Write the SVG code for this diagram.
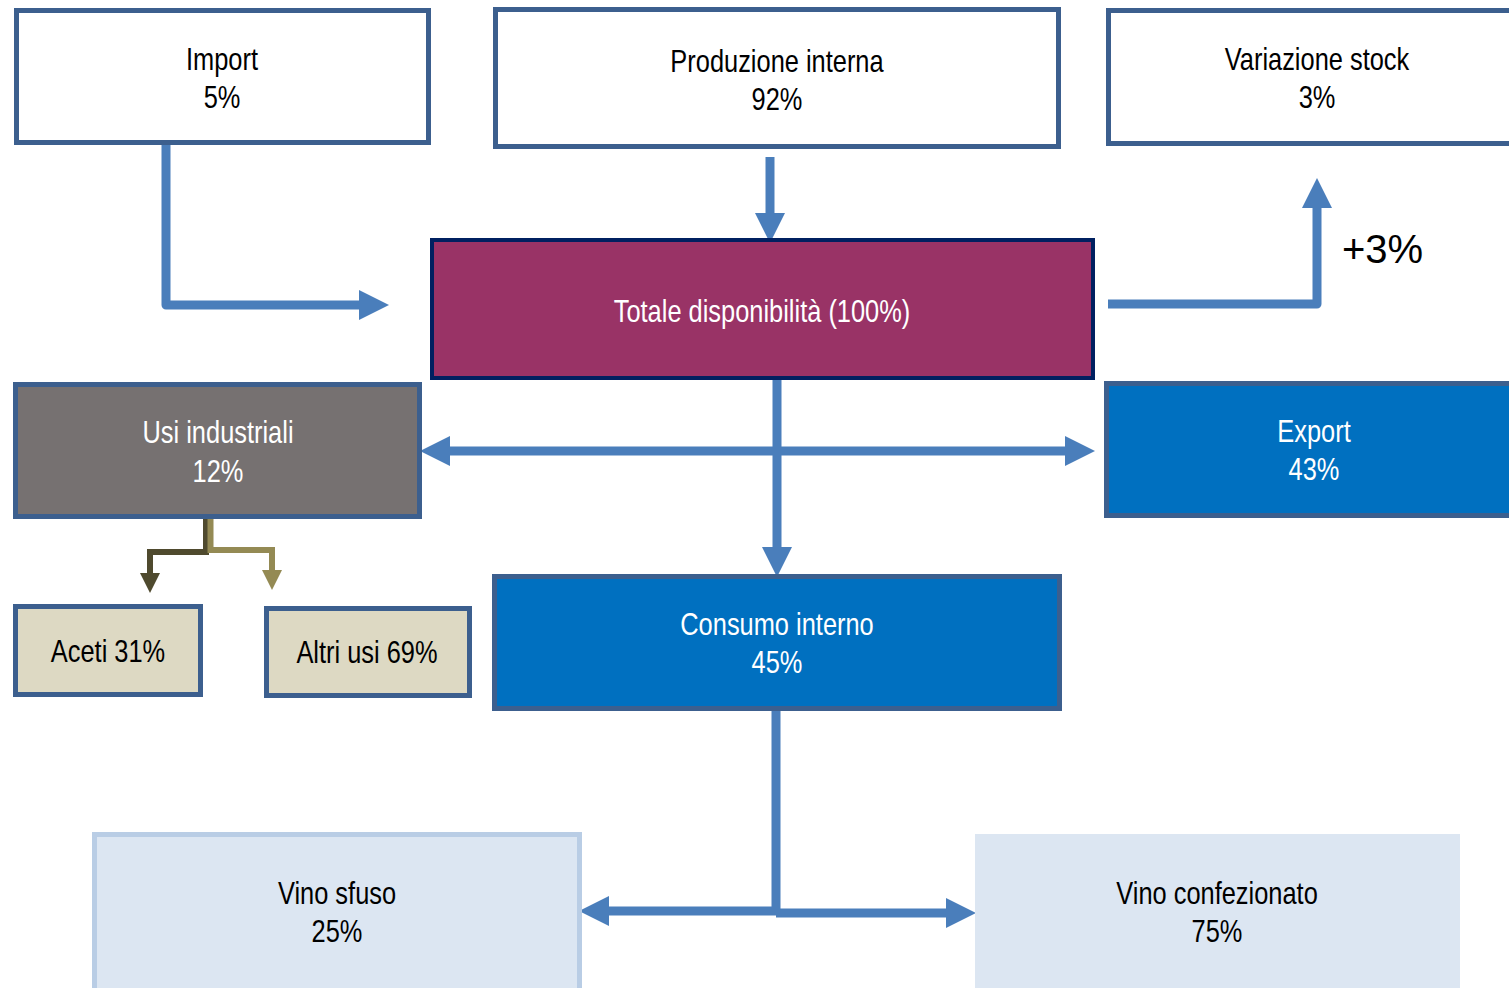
<svg xmlns="http://www.w3.org/2000/svg" width="1509" height="988" viewBox="0 0 1509 988">
<defs>
<style>
.box{stroke:#3C5F8E;stroke-width:5}
.t{font-family:"Liberation Sans",Arial,sans-serif;font-size:31px;text-anchor:middle}
.k{fill:#000}
.w{fill:#fff}
.con{fill:none;stroke:#4A7EBB;stroke-width:9;stroke-linejoin:round}
</style>
<marker id="ab" markerUnits="userSpaceOnUse" viewBox="0 0 30 30" refX="0" refY="15" markerWidth="30" markerHeight="30" orient="auto-start-reverse"><path d="M0,0 L30,15 L0,30 z" fill="#4A7EBB"/></marker>
<marker id="ad" markerUnits="userSpaceOnUse" viewBox="0 0 20 20" refX="0" refY="10" markerWidth="20" markerHeight="20" orient="auto"><path d="M0,0 L20,10 L0,20 z" fill="#4F4A2E"/></marker>
<marker id="al" markerUnits="userSpaceOnUse" viewBox="0 0 20 20" refX="0" refY="10" markerWidth="20" markerHeight="20" orient="auto"><path d="M0,0 L20,10 L0,20 z" fill="#948A54"/></marker>
</defs>
<rect width="1509" height="988" fill="#fff"/>
<g id="connectors">
<path class="con" d="M166,145 V305 H359" marker-end="url(#ab)"/>
<path class="con" d="M770,157 V213" stroke-width="10" marker-end="url(#ab)"/>
<path class="con" d="M1108,304 H1317 V208" marker-end="url(#ab)"/>
<path class="con" d="M450,451 H1065" stroke-width="10" marker-start="url(#ab)" marker-end="url(#ab)"/>
<path class="con" d="M777,380 V547" stroke-width="10" marker-end="url(#ab)"/>
<path class="con" d="M776,711 V913"/>
<path class="con" d="M776,911 H609" stroke-width="10" marker-end="url(#ab)"/>
<path class="con" d="M776,913 H946" stroke-width="10" marker-end="url(#ab)"/>
<path d="M206,510 V552 H150 V573" fill="none" stroke="#4F4A2E" stroke-width="6" marker-end="url(#ad)"/>
<path d="M210.5,510 V550 H272 V570" fill="none" stroke="#948A54" stroke-width="6" marker-end="url(#al)"/>
</g>
<g id="import">
<rect class="box" x="16.5" y="10.5" width="412" height="132" fill="#fff"/>
<text class="t k" transform="translate(222,70) scale(0.82,1)">Import</text>
<text class="t k" transform="translate(222,108) scale(0.82,1)">5%</text>
</g>
<g id="produzione">
<rect class="box" x="495.5" y="9.5" width="563" height="137" fill="#fff"/>
<text class="t k" transform="translate(777,72) scale(0.82,1)">Produzione interna</text>
<text class="t k" transform="translate(777,110) scale(0.82,1)">92%</text>
</g>
<g id="variazione">
<rect class="box" x="1108.5" y="10.5" width="420" height="133" fill="#fff"/>
<text class="t k" transform="translate(1317,70) scale(0.82,1)">Variazione stock</text>
<text class="t k" transform="translate(1317,108) scale(0.82,1)">3%</text>
</g>
<g id="totale">
<rect x="432" y="240" width="661" height="138" fill="#993366" stroke="#002060" stroke-width="4"/>
<text class="t w" transform="translate(762,322) scale(0.82,1)">Totale disponibilità (100%)</text>
</g>
<text x="1342" y="263" font-family="Liberation Sans, sans-serif" font-size="40" fill="#000">+3%</text>
<g id="usi">
<rect class="box" x="15.5" y="384.5" width="404" height="132" fill="#767171"/>
<text class="t w" transform="translate(218,443) scale(0.82,1)">Usi industriali</text>
<text class="t w" transform="translate(218,482) scale(0.82,1)">12%</text>
</g>
<g id="export">
<rect class="box" x="1106.5" y="383.5" width="420" height="132" fill="#0070C0"/>
<text class="t w" transform="translate(1314,442) scale(0.82,1)">Export</text>
<text class="t w" transform="translate(1314,480) scale(0.82,1)">43%</text>
</g>
<g id="aceti">
<rect class="box" x="15.5" y="606.5" width="185" height="88" fill="#DDD9C3"/>
<text class="t k" transform="translate(108,662) scale(0.82,1)">Aceti 31%</text>
</g>
<g id="altri">
<rect class="box" x="266.5" y="608.5" width="203" height="87" fill="#DDD9C3"/>
<text class="t k" transform="translate(367,663) scale(0.82,1)">Altri usi 69%</text>
</g>
<g id="consumo">
<rect class="box" x="494.5" y="576.5" width="565" height="132" fill="#0070C0"/>
<text class="t w" transform="translate(777,635) scale(0.82,1)">Consumo interno</text>
<text class="t w" transform="translate(777,673) scale(0.82,1)">45%</text>
</g>
<g id="sfuso">
<rect x="94.5" y="834.5" width="485" height="170" fill="#DCE6F2" stroke="#B9CDE5" stroke-width="5"/>
<text class="t k" transform="translate(337,904) scale(0.82,1)">Vino sfuso</text>
<text class="t k" transform="translate(337,942) scale(0.82,1)">25%</text>
</g>
<g id="confezionato">
<rect x="975" y="834" width="485" height="160" fill="#DCE6F2"/>
<text class="t k" transform="translate(1217,904) scale(0.82,1)">Vino confezionato</text>
<text class="t k" transform="translate(1217,942) scale(0.82,1)">75%</text>
</g>
</svg>
